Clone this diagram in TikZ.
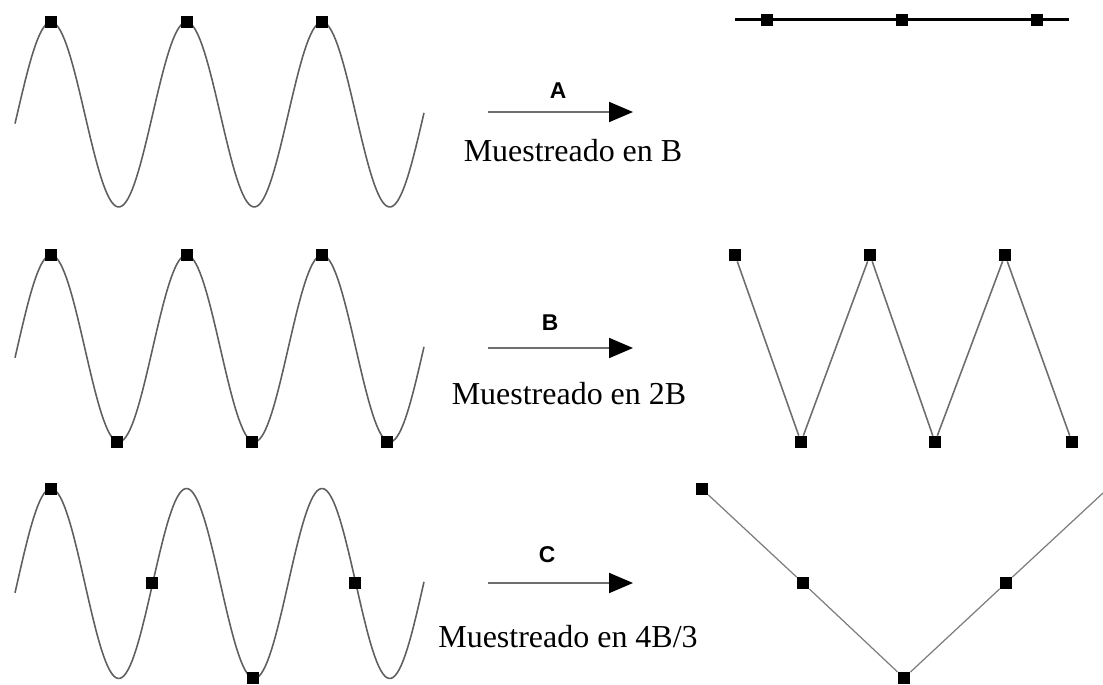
\documentclass[tikz,border=0pt]{standalone}
\usepackage{fontspec}
\setmainfont{Liberation Serif}
\setsansfont{Liberation Sans}
\usetikzlibrary{arrows.meta,positioning}
\definecolor{waveGray}{RGB}{95,95,95}
\definecolor{lineGray}{RGB}{110,110,110}

\begin{document}
\begin{tikzpicture}[x=0.02cm,y=0.02cm,
  wave/.style={draw=waveGray,line width=0.9pt},
  sample/.style={rectangle,fill=black,minimum size=0.24cm,inner sep=0pt},
  link/.style={draw=#1,line width=0.9pt},
  arrow/.style={-{Triangle[length=0.48cm,width=0.4cm,black]},draw=lineGray,line width=1.1pt},
  letter/.style={font=\sffamily\bfseries\fontsize{13}{15}\selectfont},
  caption/.style={font=\fontsize{18.2}{21}\selectfont}
]
\useasboundingbox (0,0) rectangle (1103,-685);
% Row 1: sampled at B
\draw[wave] plot[domain=15:424,samples=200] (\x,{-114.5+92.5*cos((\x-51)/135.5*360)});
\foreach \i/\px in {1/51,2/187,3/322}
  \node[sample] (p1\i) at (\px,-22) {};
\coordinate (a1s) at (488,-112);
\coordinate (a1e) at (633,-112);
\draw[arrow] (a1s) -- (a1e);
\node[letter] (lA) at (558,-91) {A};
\node[caption] (cA) at (573,-151) {Muestreado en B};
\coordinate (q1l) at (735,-20);
\coordinate (q1r) at (1069,-20);
\draw[line width=1.7pt] (q1l) -- (q1r);
\foreach \i/\px in {1/767,2/902,3/1037}
  \node[sample] (q1\i) at (\px,-20) {};

% Row 2: sampled at 2B
\draw[wave] plot[domain=15:424,samples=200] (\x,{-348.5+93.5*cos((\x-51)/135.5*360)});
\foreach \i/\px/\py in {1/51/255,2/117/442,3/187/255,4/252/442,5/322/255,6/387/442}
  \node[sample] (p2\i) at (\px,-\py) {};
\coordinate (a2s) at (488,-348);
\coordinate (a2e) at (633,-348);
\draw[arrow] (a2s) -- (a2e);
\node[letter] (lB) at (550,-323) {B};
\node[caption] (cB) at (569,-394) {Muestreado en 2B};
\foreach \i/\px/\py in {1/735/255,2/801/442,3/870/255,4/935/442,5/1005/255,6/1072/442}
  \node[sample] (q2\i) at (\px,-\py) {};
\draw[link=lineGray] (q21) -- (q22) -- (q23) -- (q24) -- (q25) -- (q26);

% Row 3: sampled at 4B/3
\draw[wave] plot[domain=15:424,samples=200] (\x,{-583.5+95*cos((\x-51)/135.5*360)});
\foreach \i/\px/\py in {1/51/489,2/152/583,3/253/678,4/355/583}
  \node[sample] (p3\i) at (\px,-\py) {};
\coordinate (a3s) at (488,-583);
\coordinate (a3e) at (633,-583);
\draw[arrow] (a3s) -- (a3e);
\node[letter] (lC) at (547,-555) {C};
\node[caption] (cC) at (568,-637) {Muestreado en 4B/3};
\foreach \i/\px/\py in {1/702/489,2/803/583,3/904/678,4/1006/583}
  \node[sample] (q3\i) at (\px,-\py) {};
\coordinate (q3e) at (1103,-493);
\draw[link=lineGray!90,line width=0.7pt] (q31) -- (q32) -- (q33) -- (q34) -- (q3e);
\end{tikzpicture}
\end{document}
